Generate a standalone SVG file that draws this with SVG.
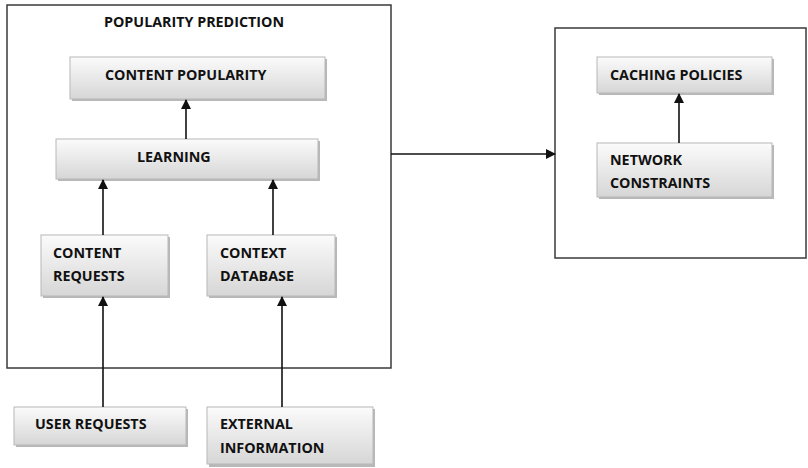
<svg xmlns="http://www.w3.org/2000/svg" width="808" height="468" viewBox="0 0 808 468">
  <defs>
    <linearGradient id="boxFill" x1="0" y1="0" x2="0" y2="1">
      <stop offset="0" stop-color="#fbfbfb"/>
      <stop offset="1" stop-color="#d6d6d6"/>
    </linearGradient>
    <marker id="arrow" viewBox="0 0 10 10" refX="9" refY="5" markerWidth="10" markerHeight="10" markerUnits="userSpaceOnUse" orient="auto">
      <path d="M0,0 L10,5 L0,10 Z" fill="#111"/>
    </marker>
  </defs>
  <style>
    .frame { fill: none; stroke: #3a3a3a; stroke-width: 1.5; }
    .shadow { fill: #9a9a9a; opacity: 0.7; }
    .box { fill: url(#boxFill); stroke: #b8b8b8; stroke-width: 1; }
    .label { font-family: "Open Sans", "Liberation Sans", sans-serif; font-weight: 700; font-size: 14.3px; fill: #111; }
    .edge { stroke: #111; stroke-width: 1.6; fill: none; marker-end: url(#arrow); }
  </style>

  <rect width="808" height="468" fill="#ffffff"/>

  <!-- containers -->
  <g id="popularity-prediction">
    <rect class="frame" x="7" y="5" width="384" height="363"/>
    <text class="label" x="104" y="27">POPULARITY PREDICTION</text>
  </g>
  <g id="caching-frame">
    <rect class="frame" x="555" y="28" width="251" height="230"/>
  </g>

  <!-- nodes -->
  <g id="content-popularity">
    <rect class="shadow" x="72" y="59" width="255" height="42"/>
    <rect class="box" x="70" y="57" width="255" height="42"/>
    <text class="label" x="105" y="80">CONTENT POPULARITY</text>
  </g>
  <g id="learning">
    <rect class="shadow" x="58" y="141" width="262" height="40"/>
    <rect class="box" x="56" y="139" width="262" height="40"/>
    <text class="label" x="137" y="162">LEARNING</text>
  </g>
  <g id="content-requests">
    <rect class="shadow" x="43" y="237" width="127" height="61"/>
    <rect class="box" x="41" y="235" width="127" height="61"/>
    <text class="label" x="53" y="258">CONTENT</text>
    <text class="label" x="53" y="281">REQUESTS</text>
  </g>
  <g id="context-database">
    <rect class="shadow" x="209" y="237" width="128" height="61"/>
    <rect class="box" x="207" y="235" width="128" height="61"/>
    <text class="label" x="220" y="258">CONTEXT</text>
    <text class="label" x="220" y="281">DATABASE</text>
  </g>
  <g id="user-requests">
    <rect class="shadow" x="16" y="409" width="172" height="38"/>
    <rect class="box" x="14" y="407" width="172" height="38"/>
    <text class="label" x="35" y="429">USER REQUESTS</text>
  </g>
  <g id="external-information">
    <rect class="shadow" x="209" y="409" width="166" height="58"/>
    <rect class="box" x="207" y="407" width="166" height="57"/>
    <text class="label" x="220" y="429">EXTERNAL</text>
    <text class="label" x="220" y="453">INFORMATION</text>
  </g>
  <g id="caching-policies">
    <rect class="shadow" x="599" y="59" width="175" height="36"/>
    <rect class="box" x="597" y="57" width="175" height="36"/>
    <text class="label" x="610" y="80">CACHING POLICIES</text>
  </g>
  <g id="network-constraints">
    <rect class="shadow" x="599" y="145" width="175" height="54"/>
    <rect class="box" x="597" y="143" width="175" height="54"/>
    <text class="label" x="610" y="165">NETWORK</text>
    <text class="label" x="610" y="188">CONSTRAINTS</text>
  </g>

  <!-- connectors -->
  <g id="connectors">
    <line class="edge" x1="186" y1="139" x2="186" y2="100"/>
    <line class="edge" x1="103" y1="235" x2="103" y2="180"/>
    <line class="edge" x1="273" y1="235" x2="273" y2="180"/>
    <line class="edge" x1="103" y1="407" x2="103" y2="297"/>
    <line class="edge" x1="282" y1="407" x2="282" y2="297"/>
    <line class="edge" x1="679" y1="143" x2="679" y2="94"/>
    <line class="edge" x1="391" y1="154" x2="555" y2="154"/>
  </g>
</svg>
